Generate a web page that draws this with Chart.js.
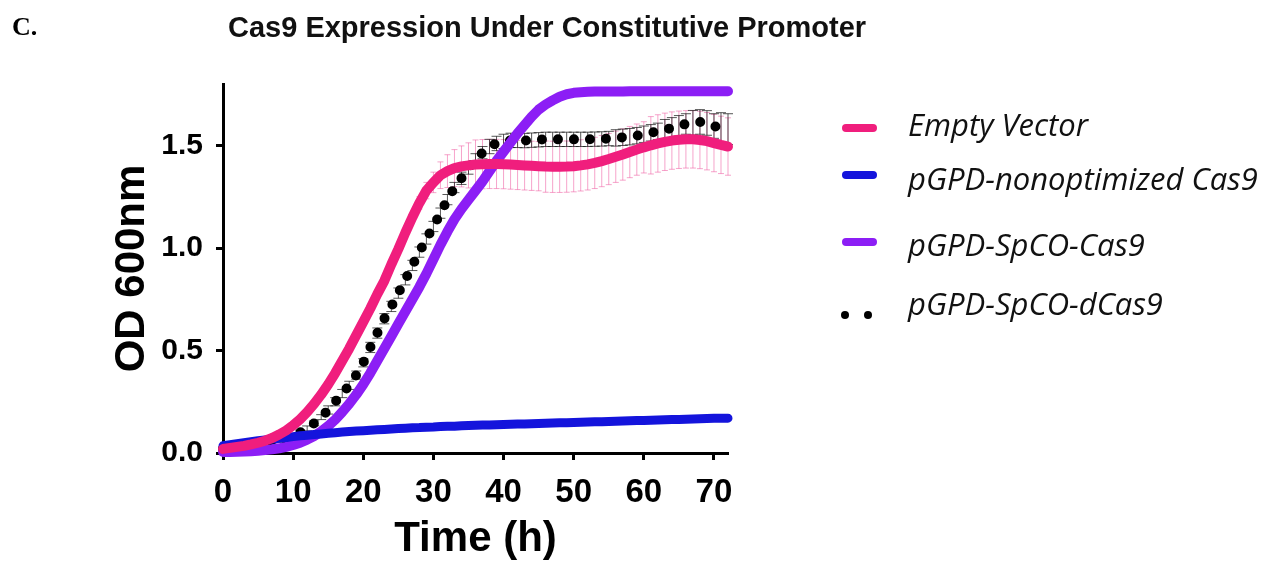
<!DOCTYPE html>
<html>
<head>
<meta charset="utf-8">
<style>
html,body{margin:0;padding:0;background:#fff;width:1269px;height:565px;overflow:hidden;}
#wrap{position:relative;width:1269px;height:565px;}
#c{position:absolute;left:0;top:0;}
.abs{position:absolute;white-space:nowrap;}
#panel{left:12px;top:14px;font:bold 26px "Liberation Serif",serif;line-height:26px;color:#000;}
#title{left:228px;top:13px;font:bold 29px "Liberation Sans",Arial,sans-serif;line-height:29px;color:#111;}
.lg{left:908px;font:italic 31px "Open Sans",sans-serif;line-height:31px;color:#111;}
.sw{position:absolute;width:35px;height:8px;border-radius:4px;left:842px;}
.dot{position:absolute;width:8px;height:8px;border-radius:4px;background:#000;}
</style>
<script src="https://cdn.jsdelivr.net/npm/chart.js@4/dist/chart.umd.min.js"></script>
</head>
<body>
<div id="wrap">
<canvas id="c" width="1269" height="565"></canvas>
<div id="panel" class="abs">C.</div>
<div id="title" class="abs">Cas9 Expression Under Constitutive Promoter</div>
<div class="sw" style="top:124px;background:#F01E7D;"></div>
<div class="sw" style="top:171px;background:#1414DC;"></div>
<div class="sw" style="top:238px;background:#8C1EF5;"></div>
<div class="dot" style="left:841px;top:311px;"></div>
<div class="dot" style="left:864px;top:311px;"></div>
<div class="abs lg" style="top:109px;">Empty Vector</div>
<div class="abs lg" style="top:163px;">pGPD-nonoptimized Cas9</div>
<div class="abs lg" style="top:229px;">pGPD-SpCO-Cas9</div>
<div class="abs lg" style="top:288px;">pGPD-SpCO-dCas9</div>
</div>
<script>
// Time points (h)
const hours = [0,1,2,3,4,5,6,7,8,9,10,11,12,13,14,15,16,17,18,19,20,21,22,23,24,25,26,27,28,29,30,31,32,33,34,35,36,37,38,39,40,41,42,43,44,45,46,47,48,49,50,51,52,53,54,55,56,57,58,59,60,61,62,63,64,65,66,67,68,69,70,71,72];

// Empty Vector (mean OD600)
const emptyVector = [0.020,0.025,0.030,0.035,0.042,0.050,0.060,0.073,0.090,0.110,0.135,0.165,0.200,0.240,0.285,0.335,0.390,0.450,0.510,0.575,0.640,0.705,0.775,0.840,0.920,0.995,1.075,1.150,1.220,1.280,1.320,1.355,1.375,1.390,1.398,1.403,1.407,1.409,1.410,1.410,1.409,1.407,1.405,1.403,1.401,1.399,1.397,1.396,1.396,1.397,1.399,1.403,1.408,1.415,1.424,1.434,1.445,1.456,1.468,1.480,1.491,1.501,1.510,1.518,1.524,1.528,1.530,1.530,1.527,1.521,1.512,1.503,1.495];
const emptyVectorSD = [0.006,0.006,0.006,0.006,0.006,0.006,0.006,0.006,0.006,0.006,0.006,0.006,0.006,0.006,0.006,0.006,0.006,0.006,0.006,0.006,0.012,0.012,0.012,0.012,0.012,0.012,0.015,0.020,0.030,0.040,0.050,0.065,0.080,0.090,0.100,0.110,0.120,0.120,0.120,0.120,0.120,0.120,0.120,0.120,0.120,0.120,0.125,0.125,0.125,0.125,0.125,0.125,0.125,0.125,0.125,0.125,0.125,0.125,0.125,0.125,0.125,0.140,0.140,0.140,0.140,0.140,0.140,0.140,0.140,0.140,0.140,0.140,0.140];

// pGPD-nonoptimized Cas9
const nonoptCas9 = [0.035,0.040,0.045,0.050,0.055,0.060,0.064,0.068,0.072,0.076,0.080,0.084,0.087,0.090,0.093,0.096,0.099,0.102,0.105,0.107,0.109,0.111,0.113,0.115,0.117,0.119,0.121,0.123,0.124,0.126,0.127,0.129,0.130,0.131,0.133,0.134,0.135,0.136,0.137,0.138,0.139,0.140,0.141,0.142,0.143,0.144,0.145,0.146,0.147,0.148,0.149,0.150,0.151,0.152,0.153,0.154,0.155,0.156,0.157,0.158,0.159,0.160,0.161,0.162,0.163,0.164,0.165,0.166,0.167,0.168,0.169,0.170,0.170];

// pGPD-SpCO-Cas9
const spcoCas9 = [0.005,0.005,0.006,0.007,0.009,0.011,0.014,0.018,0.023,0.030,0.039,0.050,0.065,0.083,0.105,0.132,0.163,0.200,0.240,0.285,0.335,0.390,0.450,0.510,0.570,0.630,0.690,0.750,0.810,0.875,0.945,1.015,1.080,1.140,1.190,1.235,1.280,1.325,1.375,1.425,1.470,1.515,1.560,1.600,1.640,1.675,1.700,1.720,1.738,1.750,1.757,1.760,1.762,1.763,1.763,1.763,1.763,1.763,1.765,1.765,1.765,1.765,1.765,1.765,1.765,1.765,1.765,1.765,1.765,1.765,1.765,1.765,1.765];

// pGPD-SpCO-dCas9
const spcoDCas9 = [0.020,0.022,0.025,0.028,0.032,0.036,0.041,0.048,0.057,0.068,0.082,0.100,0.120,0.145,0.175,0.210,0.250,0.290,0.330,0.380,0.440,0.515,0.585,0.655,0.715,0.780,0.845,0.915,0.980,1.044,1.105,1.170,1.236,1.295,1.340,1.390,1.430,1.465,1.495,1.510,1.520,1.525,1.525,1.524,1.526,1.528,1.530,1.530,1.530,1.530,1.530,1.530,1.530,1.531,1.532,1.534,1.537,1.540,1.543,1.548,1.555,1.562,1.569,1.577,1.586,1.596,1.605,1.611,1.615,1.610,1.595,1.585,1.580];
const spcoDCas9SD = [0.005,0.005,0.005,0.005,0.005,0.005,0.005,0.005,0.005,0.005,0.012,0.012,0.012,0.012,0.012,0.020,0.020,0.020,0.020,0.020,0.020,0.025,0.025,0.025,0.025,0.025,0.025,0.025,0.025,0.025,0.025,0.025,0.025,0.025,0.030,0.030,0.030,0.030,0.035,0.035,0.035,0.035,0.035,0.035,0.035,0.035,0.035,0.035,0.035,0.035,0.035,0.035,0.035,0.035,0.035,0.035,0.040,0.040,0.040,0.040,0.040,0.040,0.040,0.050,0.050,0.050,0.050,0.060,0.060,0.060,0.060,0.075,0.075];

// Axis ticks
const xTicks = [0,10,20,30,40,50,60,70];
const yTicks = [0.0,0.5,1.0,1.5];

const toXY = arr => arr.map((v,i)=>({x:hours[i], y:v}));

const FONT = '"Liberation Sans", Arial, sans-serif';

const errorBars = {
  id:'errorBars',
  beforeDatasetsDraw(chart){
    const ctx = chart.ctx, xs = chart.scales.x, ys = chart.scales.y;
    const draw = (mean, sd, color, cap) => {
      ctx.save();
      ctx.strokeStyle = color; ctx.lineWidth = 1;
      ctx.beginPath();
      for (let i=0;i<hours.length;i++){
        const x = xs.getPixelForValue(hours[i]);
        const y1 = ys.getPixelForValue(mean[i]+sd[i]);
        const y2 = ys.getPixelForValue(mean[i]-sd[i]);
        ctx.moveTo(x,y1); ctx.lineTo(x,y2);
        ctx.moveTo(x-cap,y1); ctx.lineTo(x+cap,y1);
        ctx.moveTo(x-cap,y2); ctx.lineTo(x+cap,y2);
      }
      ctx.stroke();
      ctx.restore();
    };
    draw(emptyVector, emptyVectorSD, 'rgba(238,90,160,0.55)', 3);
    draw(spcoDCas9, spcoDCas9SD, 'rgba(30,30,30,0.75)', 5);
  }
};

new Chart(document.getElementById('c'), {
  type:'line',
  data:{
    datasets:[
      {label:'Empty Vector', data:toXY(emptyVector), borderColor:'#F01E7D', borderWidth:10, borderCapStyle:'round', borderJoinStyle:'round', pointRadius:0, order:0, clip:false, tension:0},
      {label:'pGPD-nonoptimized Cas9', data:toXY(nonoptCas9), borderColor:'#1414DC', borderWidth:9, borderCapStyle:'round', borderJoinStyle:'round', pointRadius:0, order:1, clip:false, tension:0},
      {label:'pGPD-SpCO-Cas9', data:toXY(spcoCas9), borderColor:'#8C1EF5', borderWidth:10, borderCapStyle:'round', borderJoinStyle:'round', pointRadius:0, order:2, clip:false, tension:0},
      {label:'pGPD-SpCO-dCas9', data:toXY(spcoDCas9), borderColor:'#000', borderWidth:10, borderDash:[0,16], borderCapStyle:'round', borderJoinStyle:'round', pointRadius:0, order:3, clip:false, tension:0}
    ]
  },
  options:{
    responsive:false, animation:false, devicePixelRatio:1,
    layout:{padding:{left:0, top:84, right:541, bottom:0}},
    plugins:{legend:{display:false}, tooltip:{enabled:false}, title:{display:false}},
    scales:{
      x:{type:'linear', min:0, max:72, bounds:'data',
        afterBuildTicks(s){ s.ticks = xTicks.map(v=>({value:v})); },
        afterFit(s){ s.height = 112; },
        ticks:{color:'#000', font:{family:FONT, size:33, weight:'bold'}, padding:13, maxRotation:0, autoSkip:false},
        grid:{display:true, drawOnChartArea:false, drawTicks:true, tickLength:7, tickWidth:3, tickColor:'#000'},
        border:{display:true, color:'#000', width:3},
        title:{display:true, text:'Time (h)', color:'#000', font:{family:FONT, size:42, weight:'bold'}, padding:{top:0,bottom:0}}
      },
      y:{type:'linear', min:0, max:1.8, bounds:'data',
        afterBuildTicks(s){ s.ticks = yTicks.map(v=>({value:v})); },
        afterFit(s){ s.width = 223; },
        ticks:{color:'#000', font:{family:FONT, size:30, weight:'bold'}, padding:13, callback:v=>Number(v).toFixed(1)},
        grid:{display:true, drawOnChartArea:false, drawTicks:true, tickLength:7, tickWidth:3, tickColor:'#000'},
        border:{display:true, color:'#000', width:3},
        title:{display:true, text:'OD 600nm', color:'#000', font:{family:FONT, size:42, weight:'bold'}, padding:{top:107,bottom:0}}
      }
    }
  },
  plugins:[errorBars]
});
</script>
</body>
</html>
